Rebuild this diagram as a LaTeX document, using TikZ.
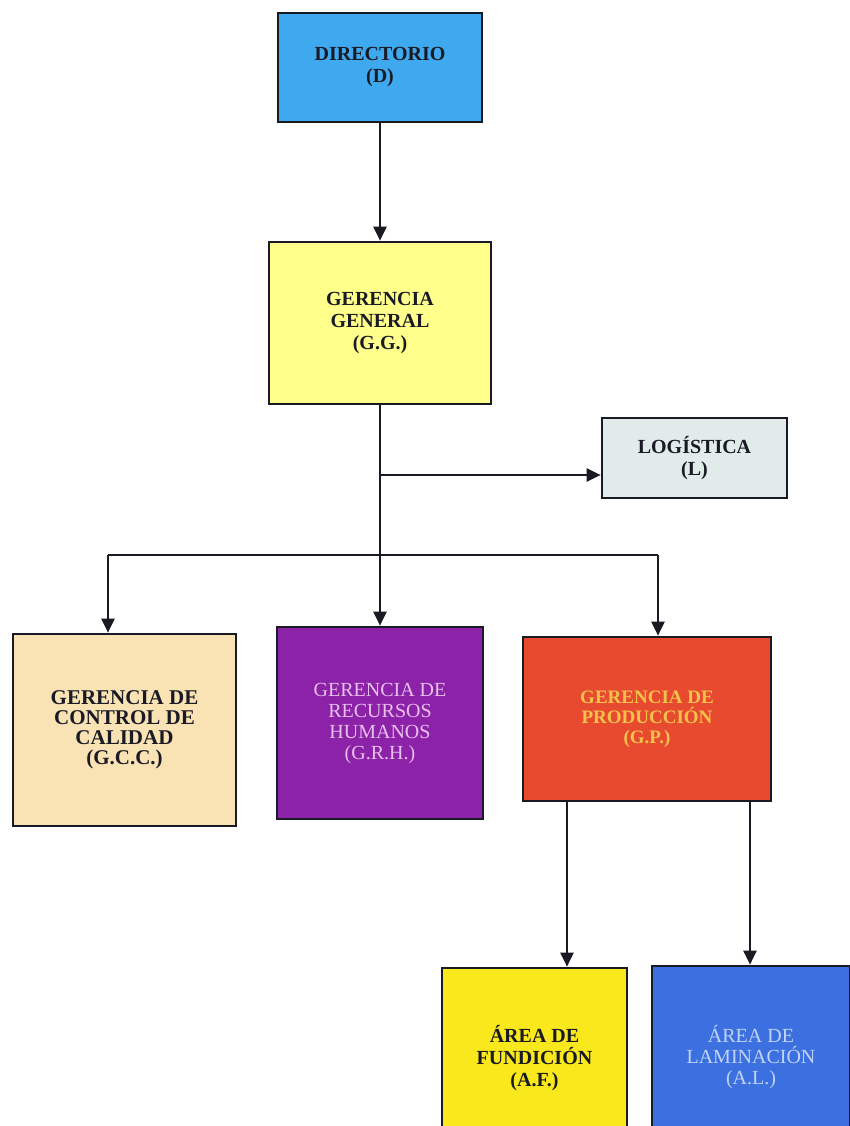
\documentclass[tikz,border=0pt]{standalone}
\usepackage{fontspec}
\setmainfont{Liberation Serif}
\usetikzlibrary{arrows.meta,calc}
\definecolor{dirblue}{RGB}{63,169,240}
\definecolor{ggyellow}{RGB}{255,255,140}
\definecolor{logcol}{RGB}{224,235,234}
\definecolor{gcccol}{RGB}{249,227,181}
\definecolor{grhcol}{RGB}{140,34,168}
\definecolor{grhtext}{RGB}{232,192,236}
\definecolor{gpcol}{RGB}{232,74,48}
\definecolor{gptext}{RGB}{242,195,74}
\definecolor{afcol}{RGB}{248,232,28}
\definecolor{alcol}{RGB}{60,111,224}
\definecolor{altext}{RGB}{192,212,244}
\definecolor{ink}{RGB}{26,26,36}
\tikzset{
  box/.style={draw=ink, line width=2.7pt, align=center, inner sep=0pt,
    font=\fontsize{20}{22}\selectfont\bfseries, text=ink},
  lightbox/.style={box, font=\fontsize{20}{21}\selectfont},
  conn/.style={draw=ink, line width=2.2pt},
  arr/.style={conn, -{Triangle[length=14pt,width=13pt]}}
}
\begin{document}
\begin{tikzpicture}[x=1pt,y=-1pt]
\useasboundingbox (0,0) rectangle (850,1126);
\clip (0,0) rectangle (850,1126);
\fill[white] (0,0) rectangle (850,1126);
% boxes
\node[box, fill=dirblue, minimum width=204pt, minimum height=109pt] (dir) at (380,67.5) {DIRECTORIO\\(D)};
\node[box, fill=ggyellow, minimum width=222pt, minimum height=162pt] (gg) at (380,323) {GERENCIA\\GENERAL\\(G.G.)};
\node[box, fill=logcol, minimum width=185pt, minimum height=80pt] (log) at (694.5,458) {LOGÍSTICA\\(L)};
\node[box, fill=gcccol, minimum width=223pt, minimum height=192pt, font=\fontsize{21}{20}\selectfont\bfseries] (gcc) at (124.5,730) {GERENCIA DE\\CONTROL DE\\CALIDAD\\(G.C.C.)};
\node[lightbox, fill=grhcol, text=grhtext, minimum width=206pt, minimum height=192pt] (grh) at (380,723) {GERENCIA DE\\RECURSOS\\HUMANOS\\(G.R.H.)};
\node[lightbox, fill=gpcol, text=gptext, minimum width=248pt, minimum height=164pt, font=\fontsize{19}{20}\selectfont\bfseries] (gp) at (647,719) {GERENCIA DE\\PRODUCCIÓN\\(G.P.)};
\node[box, fill=afcol, minimum width=185pt, minimum height=180pt] (af) at (534.5,1058) {ÁREA DE\\FUNDICIÓN\\(A.F.)};
\node[lightbox, fill=alcol, text=altext, minimum width=198pt, minimum height=182pt] (al) at (751,1057) {ÁREA DE\\LAMINACIÓN\\(A.L.)};
% junctions
\coordinate (j1) at (380,475);
\coordinate (j2) at (380,555);
\coordinate (cl) at (108,555);
\coordinate (cr) at (658,555);
\coordinate (xf) at (567,0);
\coordinate (xl) at (750,0);
% connectors
\draw[arr] (dir.south) -- (gg.north);
\draw[conn] (gg.south) -- (j2);
\draw[arr] (j1) -- (j1 -| log.west);
\draw[conn] (cl) -- (cr);
\draw[arr] (cl) -- (cl |- gcc.north);
\draw[arr] (j2) -- (grh.north);
\draw[arr] (cr) -- (cr |- gp.north);
\draw[arr] (xf |- gp.south) -- (xf |- af.north);
\draw[arr] (xl |- gp.south) -- (xl |- al.north);
\end{tikzpicture}
\end{document}
